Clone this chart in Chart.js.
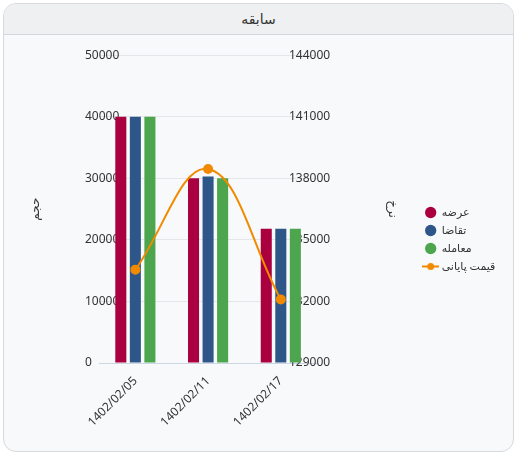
<!DOCTYPE html>
<html lang="fa">
<head>
<meta charset="utf-8">
<title>سابقه</title>
<script src="https://cdn.jsdelivr.net/npm/chart.js@4/dist/chart.umd.min.js"></script>
<style>
    html, body { margin: 0; padding: 0; background: #ffffff; }
    body { font-family: "Noto Sans", "DejaVu Sans", sans-serif; }
    .card {
        position: absolute;
        left: 3px; top: 3px;
        width: 509px; height: 447px;
        border: 1px solid #d6d9de;
        border-radius: 13px;
        background: #f8f9fb;
        overflow: hidden;
    }
    .card-header {
        height: 30px;
        line-height: 30px;
        background: #eff0f2;
        border-bottom: 1px solid #d3d6db;
        text-align: center;
        font-size: 14px;
        color: #333;
    }
    #historyChart { display: block; }
</style>
</head>
<body>
<div class="card">
    <div class="card-header" dir="rtl">سابقه</div>
    <canvas id="historyChart" width="509" height="415"></canvas>
</div>
<script>
document.addEventListener('DOMContentLoaded', () => {
    // Data
    const dates = ['1402/02/05', '1402/02/11', '1402/02/17'];
    const supply = [40000, 30000, 21800];
    const demand = [40000, 30300, 21800];
    const trade = [40000, 30000, 21800];
    const closePrice = [133550, 138450, 132100];

    const volumeRange = [0, 50000, 10000];
    const priceRange = [129000, 144000, 3000];

    const fontFamily = '"Noto Sans", "DejaVu Sans", sans-serif';
    const tickFont = { family: fontFamily, size: 12 };
    const titleFont = { family: fontFamily, size: 12 };
    const textColor = '#333';
    const lineColor = '#f28a00';

    // Legend marker for the line series (line with a dot)
    function lineMarker(color) {
        const c = document.createElement('canvas');
        c.width = 17; c.height = 9;
        const g = c.getContext('2d');
        g.strokeStyle = color;
        g.lineWidth = 2;
        g.beginPath();
        g.moveTo(0, 4.5);
        g.lineTo(17, 4.5);
        g.stroke();
        g.fillStyle = color;
        g.beginPath();
        g.arc(8.5, 4.5, 3.5, 0, Math.PI * 2);
        g.fill();
        return c;
    }
    const lineLegendIcon = lineMarker(lineColor);

    const ctx = document.getElementById('historyChart').getContext('2d');
    new Chart(ctx, {
        data: {
            labels: dates,
            datasets: [
                {
                    type: 'line',
                    label: 'قیمت پایانی',
                    data: closePrice,
                    yAxisID: 'price',
                    borderColor: lineColor,
                    backgroundColor: lineColor,
                    borderWidth: 2,
                    pointRadius: 4,
                    tension: 0.4,
                    order: 0
                },
                {
                    type: 'bar',
                    label: 'عرضه',
                    data: supply,
                    yAxisID: 'volume',
                    backgroundColor: '#ab003f',
                    order: 1
                },
                {
                    type: 'bar',
                    label: 'تقاضا',
                    data: demand,
                    yAxisID: 'volume',
                    backgroundColor: '#2f5689',
                    order: 1
                },
                {
                    type: 'bar',
                    label: 'معامله',
                    data: trade,
                    yAxisID: 'volume',
                    backgroundColor: '#4da54e',
                    order: 1
                }
            ]
        },
        options: {
            responsive: false,
            animation: false,
            categoryPercentage: 0.6,
            barPercentage: 0.76,
            layout: { padding: { top: 18, right: 16, bottom: 24, left: 20 } },
            plugins: {
                tooltip: { enabled: false },
                legend: {
                    position: 'right',
                    labels: {
                        usePointStyle: true,
                        boxHeight: 8,
                        padding: 7,
                        font: { family: fontFamily, size: 11 },
                        color: textColor,
                        sort: (a, b) => (a.datasetIndex === 0) - (b.datasetIndex === 0),
                        generateLabels: chart => {
                            const items = Chart.defaults.plugins.legend.labels.generateLabels(chart);
                            items.forEach(item => {
                                item.pointStyle = item.datasetIndex === 0 ? lineLegendIcon : 'circle';
                            });
                            return items;
                        }
                    }
                }
            },
            scales: {
                x: {
                    grid: { display: false },
                    border: { color: '#cdd6e4' },
                    ticks: { font: tickFont, color: textColor, maxRotation: 45, minRotation: 45, padding: 3 },
                    afterFit: scale => { scale.height = 63; }
                },
                volume: {
                    position: 'left',
                    min: volumeRange[0],
                    max: volumeRange[1],
                    ticks: {
                        stepSize: volumeRange[2],
                        font: tickFont,
                        color: textColor,
                        mirror: true,
                        padding: -14,
                        callback: v => String(v)
                    },
                    grid: { color: '#e4e6ea', drawTicks: false },
                    border: { display: false },
                    title: { display: true, text: 'حجم', font: titleFont, color: textColor },
                    afterFit: scale => { scale.width = 75; }
                },
                price: {
                    position: 'right',
                    min: priceRange[0],
                    max: priceRange[1],
                    ticks: {
                        stepSize: priceRange[2],
                        font: tickFont,
                        color: textColor,
                        mirror: true,
                        padding: 13,
                        callback: v => String(v)
                    },
                    grid: { drawOnChartArea: false, drawTicks: false },
                    border: { display: false },
                    title: {
                        display: true,
                        text: 'نرخ',
                        font: titleFont,
                        color: textColor,
                        padding: { top: 19, bottom: 4 }
                    },
                    afterFit: scale => { scale.width = 101; }
                }
            }
        }
    });
});
</script>
</body>
</html>
